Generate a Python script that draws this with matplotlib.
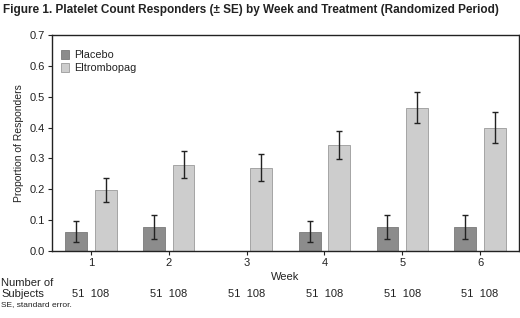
import numpy as np
import matplotlib
matplotlib.use("Agg")
import matplotlib.pyplot as plt

plt.rcParams['font.family'] = ['Liberation Sans', 'DejaVu Sans']

weeks = [1, 2, 3, 4, 5, 6]
placebo = [0.063, 0.078, 0.0, 0.062, 0.078, 0.078]
placebo_se = [0.035, 0.038, 0.0, 0.034, 0.038, 0.038]
eltrombopag = [0.197, 0.279, 0.270, 0.343, 0.465, 0.400]
eltrombopag_se = [0.039, 0.044, 0.044, 0.046, 0.049, 0.049]
n_placebo = [51, 51, 51, 51, 51, 51]
n_eltrombopag = [108, 108, 108, 108, 108, 108]

fig = plt.figure(figsize=(5.2, 3.18), dpi=100)
ax = fig.add_axes([52 / 520, 1 - 251 / 318, 467 / 520, 216 / 318])

x = np.array(weeks)
w = 0.28
off = 0.19
ax.bar(x - off, placebo, w, color='#8c8c8c', edgecolor='#7a7a7a', linewidth=0.6,
       label='Placebo', zorder=2)
ax.bar(x + off, eltrombopag, w, color='#cdcdcd', edgecolor='#9a9a9a', linewidth=0.6,
       label='Eltrombopag', zorder=2)

# no error bar where the proportion is zero
pl_x = [xi - off for xi, v in zip(x, placebo) if v > 0]
pl_y = [v for v in placebo if v > 0]
pl_e = [e for v, e in zip(placebo, placebo_se) if v > 0]
ax.errorbar(pl_x, pl_y, yerr=pl_e, fmt='none', ecolor='#222222', elinewidth=1.0,
            capsize=2.5, capthick=1.0, zorder=3)
ax.errorbar(x + off, eltrombopag, yerr=eltrombopag_se, fmt='none', ecolor='#222222',
            elinewidth=1.0, capsize=2.5, capthick=1.0, zorder=3)

ax.set_xlim(0.5, 6.5)
ax.set_ylim(0, 0.7)
ax.set_yticks(np.arange(0, 0.71, 0.1))
ax.set_yticklabels([f'{v:.1f}' for v in np.arange(0, 0.71, 0.1)])
ax.set_xticks(weeks)
ax.set_xticklabels([str(wk) for wk in weeks])
ax.tick_params(axis='both', labelsize=8, length=3, width=0.8, color='#222222',
               labelcolor='#222222', pad=2)
for s in ax.spines.values():
    s.set_linewidth(1.0)
    s.set_color('#222222')

ax.set_ylabel('Proportion of Responders', fontsize=7.5, color='#222222', labelpad=4)
ax.text(0.5, -0.095, 'Week', transform=ax.transAxes, ha='center', va='top',
        fontsize=8, color='#222222')

leg = ax.legend(loc='upper left', frameon=False, fontsize=7.8, handlelength=0.8,
                handleheight=0.8, handletextpad=0.4, borderaxespad=0.4,
                labelspacing=0.3, bbox_to_anchor=(0.0, 0.97))
for t in leg.get_texts():
    t.set_color('#222222')

fig.text(3 / 520, 1 - 10 / 318,
         'Figure 1. Platelet Count Responders (\u00b1 SE) by Week and Treatment (Randomized Period)',
         ha='left', va='center', fontsize=8.45, fontweight='bold', color='#222222')

fig.text(1 / 520, 1 - 283 / 318, 'Number of', ha='left', va='center', fontsize=8,
         color='#222222')
fig.text(1 / 520, 1 - 294 / 318, 'Subjects', ha='left', va='center', fontsize=8,
         color='#222222')
for wk, a, b in zip(weeks, n_placebo, n_eltrombopag):
    ax.annotate(f'{a}  {b}', xy=(wk, 0), xycoords=('data', 'axes fraction'),
                xytext=(0, -43), textcoords='offset pixels', ha='center', va='center',
                fontsize=8, color='#222222', annotation_clip=False)

fig.text(1 / 520, 1 - 305 / 318, 'SE, standard error.', ha='left', va='center',
         fontsize=6, color='#222222')

fig.savefig('out.png', dpi=100)
